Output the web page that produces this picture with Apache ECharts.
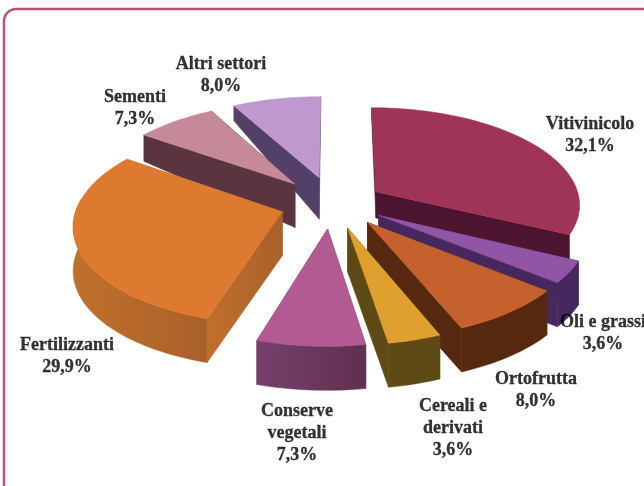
<!DOCTYPE html>
<html><head><meta charset="utf-8">
<style>html,body{margin:0;padding:0;background:#fff}#c{width:644px;height:486px}</style>
<script src="https://cdn.jsdelivr.net/npm/echarts@6/dist/echarts.min.js"></script>
</head><body><div id="c"></div>
<script>
const categories = ['Vitivinicolo','Oli e grassi','Ortofrutta','Cereali e\nderivati','Conserve\nvegetali','Fertilizzanti','Sementi','Altri settori'];
const values = [32.1,3.6,8.0,3.6,7.3,29.9,7.3,8.0];
// styling
const topColors = ['#A03358','#9055A5','#C4612C','#E0A030','#B45A92','#DD7A30','#C5899A','#BE98CE'];
const sideColors = [['#4E1530','#4E1530'],['#46285F','#46285F'],['#55280F','#55280F'],['#5E4A14','#5E4A14'],['#74406A','#60304F'],['#C0702C','#A9602A'],['#5A3540','#5A3540'],['#524068','#524068']];
const explodeVec = [[0.203,-0.14],[0.21,0.105],[0.155,0.175],[0.06,0.23],[-0.035,0.24],[-0.255,0.07],[-0.20,-0.22],[-0.08,-0.29]];
const depthMul = [0.6,1,1,1,1,1,1,1];
const outerWall = [false,true,true,true,true,true,true,true];
const labelPos = [[590,135],[603,333],[536,390],[453,428],[297,433],[67,356],[135,108],[221,75]];
const drawOrder = [0,7,6,1,2,5,3,4];
const CX=335, CY=205, A=205, B=97, K=0.12, DEPTH=44;

function proj(u,v){const s=1/(1-K*v);return [CX+A*u*s, CY+B*v*s];}
function depthAt(v,m){return m*Math.min(DEPTH, DEPTH+(v+0.2)*30);}
const total = values.reduce((a,b)=>a+b,0);
let cum=0; const spans=values.map(v=>{const a=cum/total*2*Math.PI;cum+=v;return [a,cum/total*2*Math.PI];});

function renderItem(params){
  const i=drawOrder[params.dataIndex];
  const [a0,a1]=spans[i]; const m=depthMul[i];
  const [ox,oz]=explodeVec[i];
  const pt=a=>{const u=ox+Math.sin(a),v=oz-Math.cos(a);return {p:proj(u,v),d:depthAt(v,m)};};
  const n=Math.max(6,Math.ceil((a1-a0)/0.03));
  const arc=[];for(let k=0;k<=n;k++)arc.push(pt(a0+(a1-a0)*k/n));
  const apex={p:proj(ox,oz),d:depthAt(oz,m)};
  const low=q=>[q.p[0],q.p[1]+q.d];
  const hi=q=>q.p;
  const children=[];
  const sc=sideColors[i];
  const fill={type:'linear',x:0,y:0,x2:1,y2:0,colorStops:[{offset:0,color:sc[0]},{offset:1,color:sc[1]}]};
  const poly=(pts,f)=>({type:'polygon',shape:{points:pts},style:{fill:f,stroke:f,lineWidth:0.5}});
  children.push(poly([hi(apex),hi(arc[0]),low(arc[0]),low(apex)],fill));
  children.push(poly([hi(apex),hi(arc[n]),low(arc[n]),low(apex)],fill));
  const vis=arc.filter((q,k)=>Math.cos(a0+(a1-a0)*k/n)<0.15);
  if(outerWall[i] && vis.length>1) children.push(poly(vis.map(hi).concat(vis.slice().reverse().map(low)),fill));
  children.push(poly([hi(apex)].concat(arc.map(hi)),topColors[i]));
  return {type:'group',children};
}
const labelData=categories.map((c,i)=>({value:[labelPos[i][0],labelPos[i][1]],name:c+'\n'+values[i].toFixed(1).replace('.',',')+'%'}));
const chart=echarts.init(document.getElementById('c'),null,{renderer:'canvas'});
chart.setOption({
  animation:false,backgroundColor:'#fff',
  graphic:[{type:'rect',z:-1,shape:{x:4,y:9,width:660,height:500,r:12},style:{fill:'#fff',stroke:'#C2507F',lineWidth:2.5}}],
  xAxis:{show:false,min:0,max:644},yAxis:{show:false,min:0,max:486,inverse:true},
  grid:{left:0,right:0,top:0,bottom:0},
  series:[
   {type:'custom',coordinateSystem:'none',renderItem,data:values.map((v,i)=>v),silent:true,z:2},
   {type:'scatter',data:labelData,symbolSize:0,silent:true,z:3,
    label:{show:true,position:'inside',formatter:p=>p.name,fontFamily:'Liberation Serif',fontWeight:'bold',fontSize:18,lineHeight:22,color:'#000',textBorderColor:'#000',textBorderWidth:0.3,align:'center',verticalAlign:'middle'}}
  ]
});
</script></body></html>
